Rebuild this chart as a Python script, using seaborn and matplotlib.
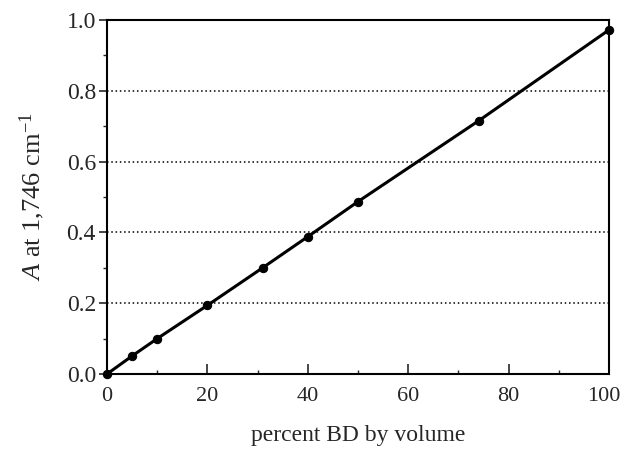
import matplotlib
matplotlib.use("Agg")
import matplotlib.pyplot as plt
import matplotlib.transforms as mtransforms
import seaborn as sns
import pandas as pd
from matplotlib.ticker import MultipleLocator

percent_bd = [0, 5, 10, 20, 31, 40, 50, 74, 100]
absorbance = [0.0, 0.051, 0.10, 0.194, 0.30, 0.388, 0.487, 0.715, 0.972]
x_ticks = [0, 20, 40, 60, 80, 100]
y_ticks = [0.0, 0.2, 0.4, 0.6, 0.8, 1.0]
grid_levels = [0.2, 0.4, 0.6, 0.8]

sns.set_theme(style="white")
plt.rcParams['font.family'] = ['Liberation Serif', 'DejaVu Serif']
plt.rcParams['mathtext.fontset'] = 'custom'
plt.rcParams['mathtext.rm'] = 'Liberation Serif'
plt.rcParams['mathtext.it'] = 'Liberation Serif:italic'

df = pd.DataFrame({"percent": percent_bd, "A": absorbance})

fig = plt.figure(figsize=(6.24, 4.51), dpi=100)
ax = fig.add_axes([0.1715, 0.1707, 0.976 - 0.1715, 0.9557 - 0.1707])

for g in grid_levels:
    ax.axhline(g, color="black", linestyle=(0, (1, 1.8)), linewidth=1.1, zorder=1)

sns.lineplot(data=df, x="percent", y="A", ax=ax, color="black", linewidth=2.2,
             marker="o", markersize=6, markeredgecolor="black", zorder=3,
             clip_on=False)

ax.set_xlim(0, 100)
ax.set_ylim(0, 1.0)
ax.set_xticks(x_ticks)
ax.set_yticks(y_ticks)
ax.set_xticklabels([str(v) for v in x_ticks])
ax.set_yticklabels([f"{v:.1f}" for v in y_ticks])
ax.xaxis.set_minor_locator(MultipleLocator(10))
ax.yaxis.set_minor_locator(MultipleLocator(0.1))
ax.tick_params(axis="x", which="major", direction="in", length=7, width=1.2,
               labelsize=16, pad=9, top=False)
ax.tick_params(axis="x", which="minor", direction="in", length=3, width=1.0, top=False)
ax.tick_params(axis="y", which="major", direction="out", length=6, width=1.2,
               labelsize=17, pad=2)
ax.tick_params(axis="y", which="minor", direction="out", length=3, width=1.0)
ax.tick_params(bottom=True, left=True)
ax.tick_params(which="minor", bottom=True, left=True)

# nudge the last x tick label left so it stays inside the figure
last = ax.get_xticklabels()[-1]
last.set_transform(last.get_transform() +
                   mtransforms.ScaledTranslation(-5 / 100, 0, fig.dpi_scale_trans))

for s in ax.spines.values():
    s.set_color("black")
    s.set_linewidth(1.5)

ax.set_xlabel("percent BD by volume", fontsize=17, labelpad=14)
ax.set_ylabel(r"$A$ at 1,746 cm$^{-1}$", fontsize=19, labelpad=14)

fig.savefig("out.png", dpi=100, facecolor="white")
